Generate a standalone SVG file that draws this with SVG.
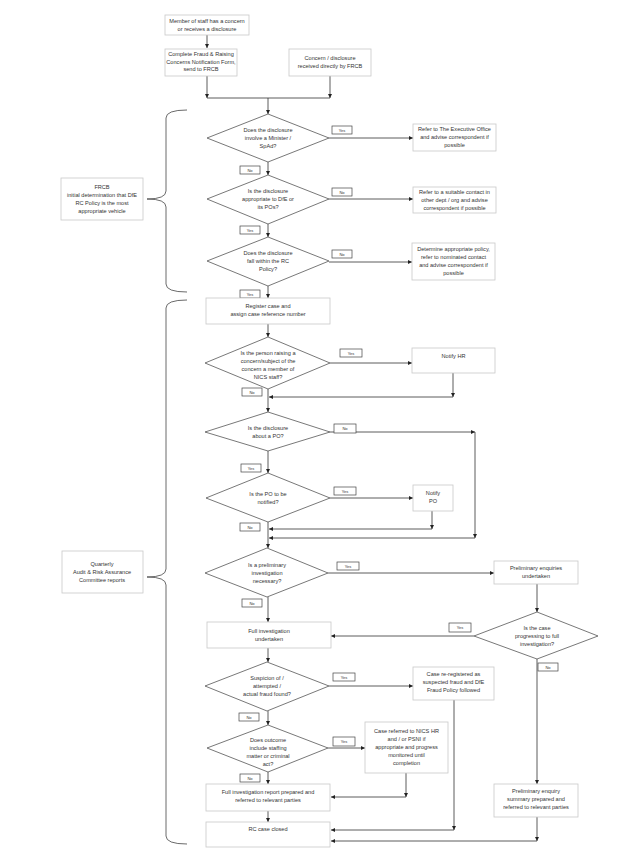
<svg xmlns="http://www.w3.org/2000/svg" width="620" height="861" viewBox="0 0 620 861">
<style>
.b{fill:#fff;stroke:#c8c8c8;stroke-width:0.8}
.d{fill:#fff;stroke:#555;stroke-width:0.8}
.l{fill:#fff;stroke:#444;stroke-width:0.7}
.t{font-family:"Liberation Sans",Arial,sans-serif;font-size:5.6px;fill:#333;text-anchor:middle}
.s{font-family:"Liberation Sans",Arial,sans-serif;font-size:4px;fill:#333;text-anchor:middle}
.c{fill:none;stroke:#333;stroke-width:0.8}
.br{fill:none;stroke:#444;stroke-width:0.8}
</style>
<defs><marker id="a" viewBox="0 0 10 10" refX="10" refY="5" markerWidth="5" markerHeight="5" orient="auto"><path d="M0,0L10,5L0,10z" fill="#222"/></marker></defs>
<rect width="620" height="861" fill="#fff"/>
<g id="connectors">
<path class="c" d="M207,35V48" marker-end="url(#a)"/>
<path class="c" d="M207,76V98" marker-end="url(#a)"/>
<path class="c" d="M330,76V98" marker-end="url(#a)"/>
<path class="c" d="M207,98H330"/>
<path class="c" d="M268,98V114" marker-end="url(#a)"/>
<path class="c" d="M329,138H413" marker-end="url(#a)"/>
<path class="c" d="M268,162V175" marker-end="url(#a)"/>
<path class="c" d="M329,199H413" marker-end="url(#a)"/>
<path class="c" d="M268,224V237" marker-end="url(#a)"/>
<path class="c" d="M329,262H412" marker-end="url(#a)"/>
<path class="c" d="M268,286V298" marker-end="url(#a)"/>
<path class="c" d="M268,324V337" marker-end="url(#a)"/>
<path class="c" d="M330,363H412" marker-end="url(#a)"/>
<path class="c" d="M453,373V397" marker-end="url(#a)"/>
<path class="c" d="M453,397H269" marker-end="url(#a)"/>
<path class="c" d="M268,389V412" marker-end="url(#a)"/>
<path class="c" d="M330,432H475" marker-end="url(#a)"/>
<path class="c" d="M475,432V538" marker-end="url(#a)"/>
<path class="c" d="M475,538H269" marker-end="url(#a)"/>
<path class="c" d="M268,451V473" marker-end="url(#a)"/>
<path class="c" d="M330,498H413" marker-end="url(#a)"/>
<path class="c" d="M432,511V529" marker-end="url(#a)"/>
<path class="c" d="M432,529H269" marker-end="url(#a)"/>
<path class="c" d="M268,522V548" marker-end="url(#a)"/>
<path class="c" d="M328,573H494" marker-end="url(#a)"/>
<path class="c" d="M268,597V622" marker-end="url(#a)"/>
<path class="c" d="M537,584V612" marker-end="url(#a)"/>
<path class="c" d="M474,636H331" marker-end="url(#a)"/>
<path class="c" d="M268,648V662" marker-end="url(#a)"/>
<path class="c" d="M329,686H413" marker-end="url(#a)"/>
<path class="c" d="M268,711V725" marker-end="url(#a)"/>
<path class="c" d="M328,748H365" marker-end="url(#a)"/>
<path class="c" d="M268,772V784" marker-end="url(#a)"/>
<path class="c" d="M406,773V797" marker-end="url(#a)"/>
<path class="c" d="M406,797H331" marker-end="url(#a)"/>
<path class="c" d="M268,811V822" marker-end="url(#a)"/>
<path class="c" d="M454,700V830" marker-end="url(#a)"/>
<path class="c" d="M454,830H331" marker-end="url(#a)"/>
<path class="c" d="M537,659V784" marker-end="url(#a)"/>
<path class="c" d="M537,817V841" marker-end="url(#a)"/>
<path class="c" d="M537,841H331" marker-end="url(#a)"/>
</g>
<g id="labels">
<rect class="l" x="332" y="126" width="20" height="8"/><text class="s" x="342" y="131.5">Yes</text>
<rect class="l" x="240" y="166" width="20" height="8"/><text class="s" x="250" y="171.5">No</text>
<rect class="l" x="332" y="188" width="20" height="8"/><text class="s" x="342" y="193.5">No</text>
<rect class="l" x="240" y="226" width="20" height="8"/><text class="s" x="250" y="231.5">Yes</text>
<rect class="l" x="332" y="250" width="20" height="8"/><text class="s" x="342" y="255.5">No</text>
<rect class="l" x="240" y="290" width="20" height="8"/><text class="s" x="250" y="295.5">Yes</text>
<rect class="l" x="340" y="349" width="22" height="8"/><text class="s" x="351" y="354.5">Yes</text>
<rect class="l" x="242" y="388" width="20" height="8"/><text class="s" x="252" y="393.5">No</text>
<rect class="l" x="334" y="424" width="22" height="9"/><text class="s" x="345" y="430">No</text>
<rect class="l" x="241" y="464" width="20" height="8"/><text class="s" x="251" y="469.5">Yes</text>
<rect class="l" x="334" y="487" width="22" height="8"/><text class="s" x="345" y="492.5">Yes</text>
<rect class="l" x="240" y="523" width="20" height="8"/><text class="s" x="250" y="528.5">No</text>
<rect class="l" x="337" y="562" width="22" height="8"/><text class="s" x="348" y="567.5">Yes</text>
<rect class="l" x="242" y="599" width="20" height="8"/><text class="s" x="252" y="604.5">No</text>
<rect class="l" x="449" y="623" width="22" height="9"/><text class="s" x="460" y="629">Yes</text>
<rect class="l" x="538" y="663" width="20" height="8"/><text class="s" x="548" y="668.5">No</text>
<rect class="l" x="333" y="673" width="22" height="8"/><text class="s" x="344" y="678.5">Yes</text>
<rect class="l" x="239" y="713" width="20" height="8"/><text class="s" x="249" y="718.5">No</text>
<rect class="l" x="333" y="737" width="22" height="9"/><text class="s" x="344" y="743">Yes</text>
<rect class="l" x="240" y="774" width="20" height="8"/><text class="s" x="250" y="779.5">No</text>
</g>
<g id="braces">
<path class="br" d="M187,110Q166,110 166,118L166,191Q166,199 147,199Q166,199 166,207L166,284Q166,292 187,292"/>
<path class="br" d="M187,300Q166,300 166,308L166,569Q166,577 147,577Q166,577 166,585L166,836Q166,844 187,844"/>
</g>
<g id="n1"><rect class="b" x="165" y="15" width="84" height="20"/><text class="t" x="207" y="23">Member of staff has a concern</text><text class="t" x="207" y="31">or receives a disclosure</text></g>
<g id="n2"><rect class="b" x="165" y="49" width="72" height="27"/><text class="t" x="201" y="56">Complete Fraud &amp; Raising</text><text class="t" x="201" y="63.5">Concerns Notification Form,</text><text class="t" x="201" y="71">send to FRCB</text></g>
<g id="n3"><rect class="b" x="289" y="49" width="82" height="27"/><text class="t" x="330" y="60">Concern / disclosure</text><text class="t" x="330" y="68">received directly by FRCB</text></g>
<g id="frcb"><rect class="b" x="61" y="178" width="82" height="42"/><text class="t" x="102" y="189">FRCB</text><text class="t" x="102" y="197">initial determination that DfE</text><text class="t" x="102" y="205">RC Policy is the most</text><text class="t" x="102" y="213">appropriate vehicle</text></g>
<g id="q"><rect class="b" x="62" y="551" width="81" height="42"/><text class="t" x="102" y="566">Quarterly</text><text class="t" x="102" y="574">Audit &amp; Risk Assurance</text><text class="t" x="102" y="582">Committee reports</text></g>
<g id="d1"><polygon class="d" points="268,114 329,138 268,162 207,138"/><text class="t" x="268" y="132">Does the disclosure</text><text class="t" x="268" y="140">involve a Minister /</text><text class="t" x="268" y="148">SpAd?</text></g>
<g id="r1"><rect class="b" x="413" y="124" width="83" height="27"/><text class="t" x="454.5" y="131">Refer to The Executive Office</text><text class="t" x="454.5" y="139">and advise correspondent if</text><text class="t" x="454.5" y="147">possible</text></g>
<g id="d2"><polygon class="d" points="268,175 329,199 268,224 207,199"/><text class="t" x="268" y="193">Is the disclosure</text><text class="t" x="268" y="201">appropriate to DfE or</text><text class="t" x="268" y="209">its POs?</text></g>
<g id="r2"><rect class="b" x="413" y="187" width="83" height="26"/><text class="t" x="454.5" y="194">Refer to a suitable contact in</text><text class="t" x="454.5" y="202">other dept / org and advise</text><text class="t" x="454.5" y="210">correspondent if possible</text></g>
<g id="d3"><polygon class="d" points="268,237 329,261 268,286 207,261"/><text class="t" x="268" y="255">Does the disclosure</text><text class="t" x="268" y="263">fall within the RC</text><text class="t" x="268" y="271">Policy?</text></g>
<g id="r3"><rect class="b" x="412" y="243" width="83" height="37"/><text class="t" x="453.5" y="251">Determine appropriate policy,</text><text class="t" x="453.5" y="259">refer to nominated contact</text><text class="t" x="453.5" y="267">and advise correspondent if</text><text class="t" x="453.5" y="275">possible</text></g>
<g id="reg"><rect class="b" x="206" y="298" width="124" height="26"/><text class="t" x="268" y="308">Register case and</text><text class="t" x="268" y="316">assign case reference number</text></g>
<g id="d4"><polygon class="d" points="268,337 330,363 268,389 205,363"/><text class="t" x="268" y="355">Is the person raising a</text><text class="t" x="268" y="363">concern/subject of the</text><text class="t" x="268" y="371">concern a member of</text><text class="t" x="268" y="379">NICS staff?</text></g>
<g id="hr"><rect class="b" x="412" y="348" width="83" height="25"/><text class="t" x="453.5" y="358">Notify HR</text></g>
<g id="d5"><polygon class="d" points="268,412 330,432 268,451 205,432"/><text class="t" x="268" y="430">Is the disclosure</text><text class="t" x="268" y="438">about a PO?</text></g>
<g id="d6"><polygon class="d" points="268,473 330,498 268,522 206,498"/><text class="t" x="268" y="496">Is the PO to be</text><text class="t" x="268" y="504">notified?</text></g>
<g id="po"><rect class="b" x="413" y="485" width="40" height="26"/><text class="t" x="433" y="495">Notify</text><text class="t" x="433" y="503">PO</text></g>
<g id="d7"><polygon class="d" points="267,548 328,573 267,597 205,573"/><text class="t" x="267" y="567">Is a preliminary</text><text class="t" x="267" y="575">investigation</text><text class="t" x="267" y="583">necessary?</text></g>
<g id="pre"><rect class="b" x="494" y="561" width="84" height="23"/><text class="t" x="536" y="570">Preliminary enquiries</text><text class="t" x="536" y="578">undertaken</text></g>
<g id="full"><rect class="b" x="207" y="622" width="124" height="26"/><text class="t" x="269" y="633">Full investigation</text><text class="t" x="269" y="641">undertaken</text></g>
<g id="d8"><polygon class="d" points="537,612 598,636 537,659 474,636"/><text class="t" x="537" y="630">Is the case</text><text class="t" x="537" y="638">progressing to full</text><text class="t" x="537" y="646">investigation?</text></g>
<g id="d9"><polygon class="d" points="267,662 329,686 267,711 205,686"/><text class="t" x="267" y="680">Suspicion of /</text><text class="t" x="267" y="688">attempted /</text><text class="t" x="267" y="696">actual fraud found?</text></g>
<g id="fraud"><rect class="b" x="413" y="667" width="81" height="33"/><text class="t" x="453.5" y="676">Case re-registered as</text><text class="t" x="453.5" y="684">suspected fraud and DfE</text><text class="t" x="453.5" y="692">Fraud Policy followed</text></g>
<g id="d10"><polygon class="d" points="268,725 328,748 268,772 207,748"/><text class="t" x="268" y="742">Does outcome</text><text class="t" x="268" y="750">include staffing</text><text class="t" x="268" y="758">matter or criminal</text><text class="t" x="268" y="766">act?</text></g>
<g id="nics"><rect class="b" x="365" y="722" width="83" height="51"/><text class="t" x="406.5" y="733">Case referred to NICS HR</text><text class="t" x="406.5" y="741">and / or PSNI if</text><text class="t" x="406.5" y="749">appropriate and progress</text><text class="t" x="406.5" y="757">monitored until</text><text class="t" x="406.5" y="765">completion</text></g>
<g id="rep"><rect class="b" x="206" y="784" width="124" height="27"/><text class="t" x="268" y="794">Full investigation report prepared and</text><text class="t" x="268" y="802">referred to relevant parties</text></g>
<g id="sum"><rect class="b" x="494" y="784" width="84" height="33"/><text class="t" x="536" y="793">Preliminary enquiry</text><text class="t" x="536" y="801">summary prepared and</text><text class="t" x="536" y="809">referred to relevant parties</text></g>
<g id="closed"><rect class="b" x="206" y="822" width="124" height="25"/><text class="t" x="268" y="831">RC case closed</text></g>
</svg>
